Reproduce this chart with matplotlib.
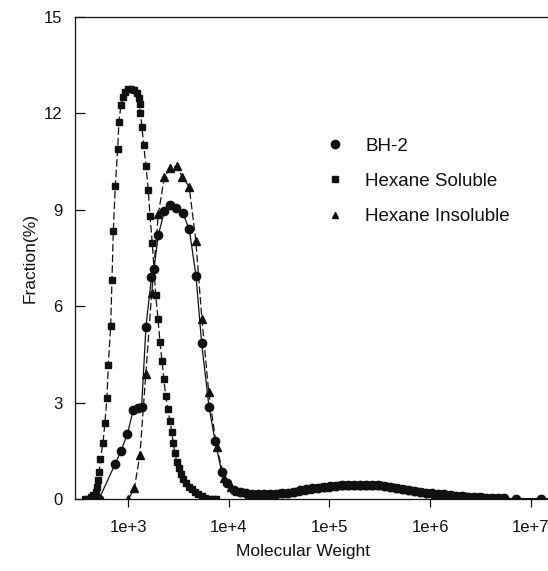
import numpy as np
import matplotlib
matplotlib.use("Agg")
import matplotlib.pyplot as plt
from matplotlib.lines import Line2D
from matplotlib.ticker import FixedLocator, FuncFormatter

plt.rcParams['font.family'] = ['Liberation Sans', 'DejaVu Sans']

# ---------------- data (log10 of molecular weight, fraction %) ----------------
bh2_logmw = [2.706, 2.866, 2.925, 2.988, 3.048, 3.092, 3.131, 3.174, 3.229, 3.254,
             3.296, 3.358, 3.416, 3.476, 3.539, 3.605, 3.672, 3.728, 3.801, 3.861,
             3.927, 3.983, 4.050, 4.109, 4.169, 4.229, 4.289, 4.348, 4.408, 4.468,
             4.527, 4.587, 4.647, 4.706, 4.766, 4.826, 4.886, 4.945, 5.005, 5.065,
             5.124, 5.184, 5.244, 5.303, 5.363, 5.423, 5.483, 5.542, 5.602, 5.662,
             5.721, 5.781, 5.841, 5.900, 5.960, 6.020, 6.080, 6.139, 6.199, 6.259,
             6.318, 6.378, 6.438, 6.498, 6.557, 6.617, 6.677, 6.736, 6.856, 7.104,
             7.350]
bh2_frac = [0.00, 1.09, 1.50, 2.02, 2.78, 2.83, 2.88, 5.37, 6.90, 7.15,
            8.20, 8.96, 9.15, 9.05, 8.91, 8.39, 6.94, 4.85, 2.88, 1.82,
            0.86, 0.52, 0.30, 0.24, 0.20, 0.17, 0.16, 0.16, 0.17, 0.18,
            0.19, 0.21, 0.24, 0.28, 0.31, 0.34, 0.36, 0.38, 0.40, 0.42,
            0.43, 0.44, 0.45, 0.46, 0.46, 0.45, 0.44, 0.42, 0.39, 0.36,
            0.33, 0.30, 0.27, 0.24, 0.21, 0.19, 0.17, 0.15, 0.13, 0.11,
            0.10, 0.08, 0.07, 0.06, 0.05, 0.05, 0.04, 0.03, 0.02, 0.02,
            0.01]

sol_logmw = [2.567, 2.600, 2.627, 2.652, 2.672, 2.687, 2.700, 2.711, 2.719, 2.746,
             2.766, 2.786, 2.799, 2.823, 2.836, 2.849, 2.869, 2.893, 2.905, 2.925,
             2.942, 2.965, 2.992, 3.022, 3.055, 3.082, 3.101, 3.111, 3.117, 3.134,
             3.151, 3.174, 3.197, 3.214, 3.237, 3.271, 3.294, 3.313, 3.333, 3.353,
             3.370, 3.393, 3.413, 3.430, 3.446, 3.463, 3.480, 3.500, 3.519, 3.545,
             3.572, 3.599, 3.629, 3.659, 3.692, 3.728, 3.764, 3.804, 3.844, 3.871]
sol_frac = [0.00, 0.02, 0.06, 0.12, 0.23, 0.38, 0.60, 0.86, 1.24, 1.74,
            2.38, 3.16, 4.17, 5.40, 6.82, 8.33, 9.74, 10.90, 11.74, 12.24,
            12.51, 12.67, 12.75, 12.76, 12.72, 12.62, 12.47, 12.28, 12.02, 11.58,
            11.02, 10.36, 9.61, 8.81, 7.96, 6.35, 5.60, 4.90, 4.31, 3.73,
            3.21, 2.80, 2.43, 2.10, 1.74, 1.43, 1.17, 0.96, 0.79, 0.62,
            0.50, 0.39, 0.31, 0.23, 0.16, 0.09, 0.05, 0.02, 0.01, 0.00]

ins_logmw = [2.998, 3.058, 3.114, 3.172, 3.231, 3.297, 3.358, 3.416, 3.480, 3.535,
             3.604, 3.670, 3.731, 3.798, 3.876, 3.955, 4.020, 4.080, 4.139, 4.199,
             4.259, 4.318, 4.378, 4.438, 4.498, 4.557, 4.617, 4.677, 4.736, 4.796,
             4.856, 4.915, 4.975, 5.035, 5.095, 5.154, 5.214, 5.274, 5.333, 5.393,
             5.453, 5.512, 5.572, 5.632, 5.692, 5.751, 5.811, 5.871, 5.930, 5.990,
             6.050, 6.109, 6.169, 6.229, 6.289, 6.348, 6.408, 6.468, 6.527, 6.587,
             6.647, 6.706, 6.856, 7.104, 7.350]
ins_frac = [0.00, 0.34, 1.38, 3.88, 6.40, 8.87, 10.03, 10.29, 10.36, 10.02,
            9.72, 8.04, 5.59, 3.34, 1.64, 0.66, 0.38, 0.27, 0.22, 0.18,
            0.16, 0.16, 0.16, 0.17, 0.19, 0.20, 0.23, 0.26, 0.30, 0.33,
            0.35, 0.37, 0.39, 0.41, 0.43, 0.44, 0.45, 0.45, 0.46, 0.46,
            0.45, 0.43, 0.41, 0.38, 0.35, 0.32, 0.29, 0.26, 0.23, 0.20,
            0.18, 0.16, 0.14, 0.12, 0.11, 0.09, 0.08, 0.07, 0.06, 0.05,
            0.04, 0.04, 0.02, 0.02, 0.01]

series_names = ["BH-2", "Hexane Soluble", "Hexane Insoluble"]
x_tick_exps = [3, 4, 5, 6, 7]
y_ticks = [0, 3, 6, 9, 12, 15]

# ---------------- figure ----------------
W, H = 548, 571
fig = plt.figure(figsize=(W / 100, H / 100), dpi=100)
ax = fig.add_axes([75 / W, 71.7 / H, 473 / W, 482.6 / H])

ink = '#111111'
ax.plot(10 ** np.array(sol_logmw), sol_frac, color=ink, lw=0.9,
        linestyle=(0, (6, 2.5)), marker='s', ms=5, mfc=ink, mec=ink, zorder=3)
ax.plot(10 ** np.array(ins_logmw), ins_frac, color=ink, lw=0.9,
        linestyle=(0, (6, 2.5)), marker='^', ms=6, mfc=ink, mec=ink, zorder=3)
ax.plot(10 ** np.array(bh2_logmw), bh2_frac, color=ink, lw=0.9,
        linestyle='-', marker='o', ms=6, mfc=ink, mec=ink, zorder=4)

ax.set_xscale('log')
ax.set_xlim(10 ** 2.468, 10 ** 7.174)
ax.set_ylim(0, 15)

ax.xaxis.set_major_locator(FixedLocator([10.0 ** e for e in x_tick_exps]))
ax.xaxis.set_major_formatter(FuncFormatter(lambda v, p: "1e+%d" % round(np.log10(v))))
ax.xaxis.set_minor_locator(FixedLocator([]))
ax.set_yticks(y_ticks)
ax.set_yticklabels([str(t) for t in y_ticks])

ax.tick_params(axis='x', direction='out', length=6, width=0.9, pad=9,
               labelsize=12, colors=ink)
ax.tick_params(axis='y', direction='in', length=7, width=0.9, pad=9,
               labelsize=12, colors=ink)
for s in ['left', 'bottom', 'top']:
    ax.spines[s].set_linewidth(0.9)
    ax.spines[s].set_color(ink)
ax.spines['right'].set_visible(False)

ax.set_xlabel("Molecular Weight", fontsize=12.5, color=ink)
ax.set_ylabel("Fraction(%)", fontsize=12.5, color=ink)
ax.xaxis.set_label_coords((302.5 - 75) / 473, -0.092)
ax.yaxis.set_label_coords(-0.078, 0.5)

handles = [
    Line2D([], [], linestyle='none', marker='o', ms=6, mfc=ink, mec=ink),
    Line2D([], [], linestyle='none', marker='s', ms=4.5, mfc=ink, mec=ink),
    Line2D([], [], linestyle='none', marker='^', ms=5, mfc=ink, mec=ink),
]
leg = ax.legend(handles, series_names, loc='upper left',
                bbox_to_anchor=(326 / W, 1 - 137.5 / H), bbox_transform=fig.transFigure,
                frameon=False, fontsize=13.5, handlelength=1.0, handletextpad=1.1,
                labelspacing=0.97, borderpad=0, borderaxespad=0)
for t in leg.get_texts():
    t.set_color(ink)

fig.savefig("out.png", dpi=100)
